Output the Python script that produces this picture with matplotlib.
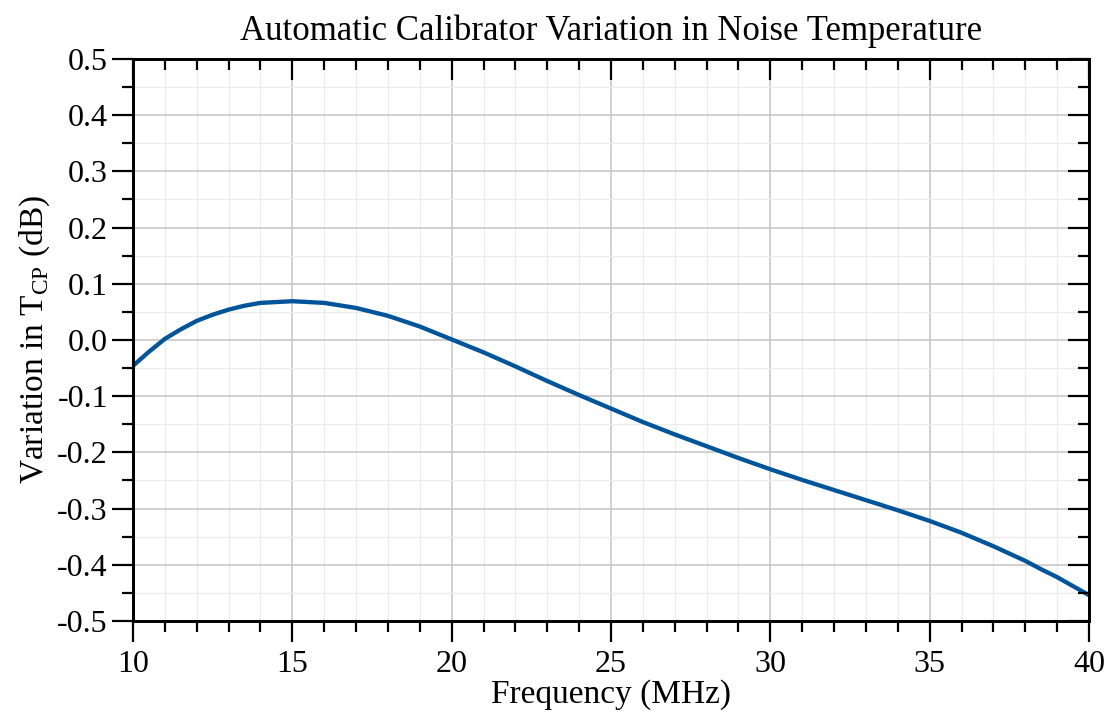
import matplotlib
matplotlib.use("Agg")
import matplotlib.pyplot as plt
from matplotlib.ticker import MultipleLocator

# Datos
freq = [10, 10.5, 11, 11.5, 12, 12.5, 13, 13.5, 14, 15, 16, 17, 18, 19, 20,
        21, 22, 23, 24, 25, 26, 27, 28, 29, 30,
        31, 32, 33, 34, 35, 36, 37, 38, 38.5, 39, 39.5, 40]
variacion = [-0.046, -0.021, 0.002, 0.019, 0.034, 0.045, 0.054, 0.061, 0.066, 0.069, 0.066,
             0.057, 0.043, 0.024, 0.001,
             -0.022, -0.047, -0.073, -0.098, -0.122, -0.146, -0.168, -0.189, -0.210, -0.230,
             -0.249, -0.267, -0.285, -0.303, -0.322, -0.343, -0.367, -0.393, -0.408, -0.422,
             -0.438, -0.454]

plt.rcParams['font.family'] = ['Liberation Serif', 'DejaVu Serif']
plt.rcParams['mathtext.fontset'] = 'custom'
plt.rcParams['mathtext.rm'] = 'Liberation Serif'
plt.rcParams['axes.unicode_minus'] = False

fig = plt.figure(figsize=(11.11, 7.23), dpi=100)
ax = fig.add_axes([0.1197, 0.1411, 0.8605, 0.7773])

ax.plot(freq, variacion, color='#00549a', linewidth=3.1, solid_capstyle='butt',
        solid_joinstyle='round', zorder=3, clip_on=False)

ax.set_xlim(10, 40)
ax.set_ylim(-0.5, 0.5)
ax.xaxis.set_major_locator(MultipleLocator(5))
ax.xaxis.set_minor_locator(MultipleLocator(1))
ax.yaxis.set_major_locator(MultipleLocator(0.1))
ax.yaxis.set_minor_locator(MultipleLocator(0.05))
ax.set_yticks([round(-0.5 + 0.1 * i, 1) for i in range(11)])
ax.set_yticklabels(['%.1f' % v for v in ax.get_yticks()])

ax.grid(which='major', color='#c4c4c4', linewidth=1.1, zorder=1)
ax.grid(which='minor', color='#ebebeb', linewidth=0.9, zorder=0)
ax.set_axisbelow(True)

for s in ax.spines.values():
    s.set_linewidth(1.8)

ax.tick_params(which='major', direction='out', length=15, width=1.6, labelsize=23, pad=3,
               colors='black')
ax.tick_params(which='minor', direction='out', length=8, width=1.6)
ax.tick_params(axis='x', which='major', pad=6)

# ejes gemelos para las marcas interiores arriba y a la derecha
top = ax.twiny()
top.set_xlim(ax.get_xlim())
top.xaxis.set_major_locator(MultipleLocator(5))
top.xaxis.set_minor_locator(MultipleLocator(1))
top.tick_params(which='major', direction='in', length=15, width=1.6, labeltop=False)
top.tick_params(which='minor', direction='in', length=8, width=1.6)

right = ax.twinx()
right.set_ylim(ax.get_ylim())
right.yaxis.set_major_locator(MultipleLocator(0.1))
right.yaxis.set_minor_locator(MultipleLocator(0.05))
right.tick_params(which='major', direction='in', length=15, width=1.6, labelright=False)
right.tick_params(which='minor', direction='in', length=8, width=1.6)
for a in (top, right):
    for s in a.spines.values():
        s.set_linewidth(1.8)

ax.set_xlabel('Frequency (MHz)', fontsize=24, labelpad=0)
ax.set_ylabel(r'Variation in T$_{\mathrm{CP}}$ (dB)', fontsize=24, labelpad=4)
ax.set_title('Automatic Calibrator Variation in Noise Temperature', fontsize=25, pad=14)

fig.savefig('out.png', dpi=100)
